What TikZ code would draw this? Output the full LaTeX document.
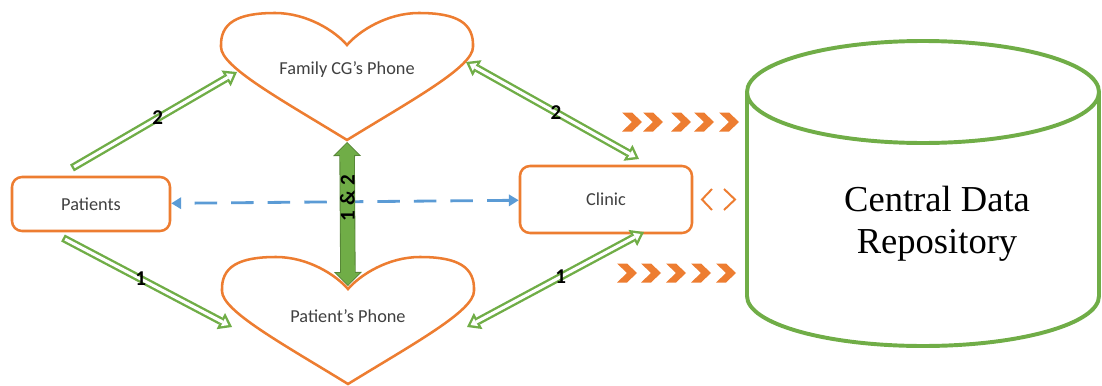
\documentclass[tikz,border=0pt]{standalone}
\usepackage{fontspec}
\setmainfont{Carlito}
\newfontfamily\repofont{Liberation Serif}
\usetikzlibrary{arrows.meta}
\definecolor{ms_orange}{RGB}{237, 125, 49}
\definecolor{ms_green}{RGB}{112, 173, 71}
\definecolor{ms_dgreen}{RGB}{84, 130, 53}
\definecolor{ms_blue}{RGB}{91, 155, 213}
\definecolor{ms_text}{RGB}{64, 64, 64}
\tikzstyle{box}=[rectangle,rounded corners=0.25cm,draw=ms_orange,fill=white,
  line width=1.8pt,text=ms_text,font=\fontsize{13}{15}\selectfont]
\tikzstyle{phone}=[text=ms_text,font=\fontsize{13}{15}\selectfont]
\tikzstyle{repo}=[font=\repofont\fontsize{26}{30}\selectfont,align=center]
\tikzstyle{none}=[inner sep=0pt]
\tikzstyle{num}=[font=\bfseries\fontsize{15}{17}\selectfont,inner sep=0pt]
\tikzstyle{link}=[draw=ms_green,line width=5.6pt,-{Triangle[length=9pt,width=13pt,line width=0pt]},
  postaction={draw=white,line width=2.2pt,shorten <=1.7pt,shorten >=2.9pt,
    -{Triangle[length=4.4pt,width=6.4pt,line width=0pt]}}]
\tikzstyle{twoway}=[draw=ms_green,line width=5.6pt,
  {Triangle[length=9pt,width=13pt,line width=0pt]}-{Triangle[length=9pt,width=13pt,line width=0pt]},
  postaction={draw=white,line width=2.2pt,shorten <=2.9pt,shorten >=2.9pt,
    {Triangle[length=4.4pt,width=6.4pt,line width=0pt]}-{Triangle[length=4.4pt,width=6.4pt,line width=0pt]}}]
\tikzstyle{thick link}=[draw=ms_dgreen,line width=11pt,
  {Triangle[length=10pt,width=20pt,line width=0pt]}-{Triangle[length=10pt,width=20pt,line width=0pt]},
  postaction={draw=ms_green,line width=9.8pt,shorten <=0.85pt,shorten >=0.85pt,
    {Triangle[length=8.5pt,width=17pt,line width=0pt]}-{Triangle[length=8.5pt,width=17pt,line width=0pt]}}]
\tikzstyle{dashed link}=[draw=ms_blue,line width=2pt,dash pattern=on 16pt off 10pt,
  {Triangle[length=7pt,width=8pt]}-{Triangle[length=7pt,width=8pt]}]
\tikzstyle{heartline}=[draw=ms_orange,line width=1.8pt,fill=white]
\tikzstyle{drum}=[draw=ms_green,line width=2.8pt]
\tikzstyle{open chev}=[draw=ms_orange,line width=1.4pt]
\tikzset{
  heart/.pic={
    \draw [style=heartline] (0,0) .. controls (-12,-14) and (-40,-32) .. (-72,-32)
      .. controls (-110,-32) and (-127,-22) .. (-126,2)
      .. controls (-126,22) and (-65,55) .. (0,95)
      .. controls (65,55) and (126,22) .. (126,2)
      .. controls (127,-22) and (110,-32) .. (72,-32)
      .. controls (40,-32) and (12,-14) .. (0,0) -- cycle;
  },
  chev/.pic={
    \fill [ms_orange] (-10,-9.5) -- (0,-9.5) -- (10,0) -- (0,9.5) -- (-10,9.5) -- (0,0) -- cycle;
  }
}

\begin{document}
\begin{tikzpicture}[x=0.25mm,y=-0.25mm]
    \useasboundingbox (0,0) rectangle (1102,385);
            \pic at (347,45) {heart};
            \pic at (348,289) {heart};
            \node [style=phone] (2) at (347, 70) {Family CG's Phone};
            \node [style=phone] (3) at (348, 316) {Patient's Phone};
            \node [style=box,minimum width=3.95cm,minimum height=1.35cm] (0) at (91, 204) {Patients};
            \node [style=box,minimum width=4.3cm,minimum height=1.675cm] (1) at (606, 199.5) {Clinic};
            \draw [style=drum] (747,92) -- (747,296) arc [start angle=180, end angle=0, x radius=176, y radius=50] -- (1099,92);
            \draw [style=drum] (923,92) ellipse [x radius=176, y radius=51];
            \node [style=repo] (4) at (937, 224) {Central Data\\Repository};
            \node [style=none] (5) at (72, 168) {};
            \node [style=none] (6) at (237, 72) {};
            \node [style=none] (7) at (63, 238) {};
            \node [style=none] (8) at (232, 327) {};
            \node [style=none] (9) at (466, 62) {};
            \node [style=none] (10) at (639, 159) {};
            \node [style=none] (11) at (644, 232) {};
            \node [style=none] (12) at (467, 327) {};
            \node [style=none] (13) at (347, 142) {};
            \node [style=none] (14) at (348, 286) {};
            \draw [style=dashed link] (1) to (0);
            \draw [style=link] (5.center) to node [style=num,pos=0.52] {2} (6.center);
            \draw [style=link] (7.center) to node [style=num,pos=0.46] {1} (8.center);
            \draw [style=twoway] (9.center) to node [style=num,pos=0.52] {2} (10.center);
            \draw [style=twoway] (11.center) to node [style=num,pos=0.47] {1} (12.center);
            \draw [style=thick link] (13.center) to node [style=num,rotate=90,pos=0.39] {1 \& 2} (14.center);
            \foreach \x in {632,653,681,704,729}
                \pic at (\x,122) {chev};
            \foreach \x in {627,651,676,701,726}
                \pic at (\x,273) {chev};
            \draw [style=open chev] (712,189) -- (702,199.5) -- (712,210);
            \draw [style=open chev] (724,189) -- (735,199.5) -- (724,210);
    \end{tikzpicture}
\end{document}
